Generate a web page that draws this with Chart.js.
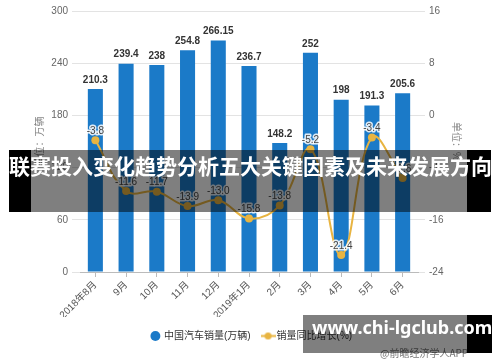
<!DOCTYPE html>
<html><head><meta charset="utf-8">
<script src="https://cdn.jsdelivr.net/npm/chart.js@4"></script>
<style>
html,body{margin:0;padding:0;background:#fff;}
#wrap{position:relative;width:500px;height:362px;overflow:hidden;}
canvas{display:block;}
#wm{position:absolute;left:380px;top:345px;font:10px 'Noto Sans CJK SC',sans-serif;color:#777;white-space:nowrap;}
#b1{position:absolute;left:9px;top:150px;width:482px;height:62px;line-height:62px;
 background:linear-gradient(to right,#000 0,#000 22px,rgba(0,0,0,0.5) 22px,rgba(0,0,0,0.5) 458px,#000 458px,#000 100%);
 color:#fff;font:bold 21px 'Noto Sans CJK SC',sans-serif;white-space:nowrap;overflow:visible;}
#b2{position:absolute;left:303px;top:315px;width:189px;height:38px;line-height:38px;
 background:linear-gradient(to right,rgba(0,0,0,0.5) 0,rgba(0,0,0,0.5) 164px,#000 164px,#000 100%);
 color:#fff;font:bold 18px 'Noto Sans',sans-serif;white-space:nowrap;}
#b2 span{position:absolute;left:9px;}
</style></head><body>
<div id="wrap">
<canvas id="c" width="500" height="362"></canvas>
<div id="wm">@前瞻经济学人APP</div>
<div id="b1">联赛投入变化趋势分析五大关键因素及未来发展方向</div>
<div id="b2"><span>www.chi-lgclub.com</span></div>
</div>
<script>
const categories = ['2018年8月','9月','10月','11月','12月','2019年1月','2月','3月','4月','5月','6月'];
const salesValues = [210.3, 239.4, 238, 254.8, 266.15, 236.7, 148.2, 252, 198, 191.3, 205.6];
const growthValues = [-3.8, -11.6, -11.7, -13.9, -13.0, -15.8, -13.8, -5.2, -21.4, -3.4, -9.6];
const salesLabel = '中国汽车销量(万辆)';
const growthLabel = '销量同比增长(%)';
const leftAxisTitle = '单位：万辆';
const rightAxisTitle = '单位：%';

const BLUE = '#1b7ac8';
const GOLD = '#e8b441';
const FONT = "'Liberation Sans','Noto Sans CJK SC',sans-serif";

function makeLineMarker(){
  const c=document.createElement('canvas'); c.width=15; c.height=9;
  const x=c.getContext('2d');
  x.strokeStyle=GOLD; x.lineWidth=2;
  x.beginPath(); x.moveTo(0,4.5); x.lineTo(15,4.5); x.stroke();
  x.fillStyle=GOLD; x.beginPath(); x.arc(7.5,4.5,3.5,0,Math.PI*2); x.fill();
  return c;
}
const lineMarker = makeLineMarker();

const valueLabels = {
  id:'valueLabels',
  afterDatasetsDraw(chart){
    const ctx=chart.ctx;
    const m0=chart.getDatasetMeta(0), m1=chart.getDatasetMeta(1);
    ctx.save();
    ctx.textAlign='center'; ctx.textBaseline='bottom';
    ctx.font='bold 10px '+FONT; ctx.fillStyle='#333';
    m0.data.forEach((el,i)=>{ ctx.fillText(String(salesValues[i]), el.x, el.y-4); });
    ctx.font='10px '+FONT;
    m1.data.forEach((el,i)=>{
      const t=growthValues[i].toFixed(1);
      ctx.lineWidth=3; ctx.strokeStyle='rgba(255,255,255,0.85)'; ctx.lineJoin='round';
      ctx.strokeText(t, el.x, el.y-4);
      ctx.fillStyle='#444'; ctx.fillText(t, el.x, el.y-4);
    });
    ctx.restore();
  }
};

new Chart(document.getElementById('c'), {
  type:'bar',
  data:{
    labels:categories,
    datasets:[
      {type:'bar', label:salesLabel, data:salesValues, backgroundColor:BLUE, yAxisID:'y',
       barPercentage:0.49, categoryPercentage:1, order:2},
      {type:'line', label:growthLabel, data:growthValues, yAxisID:'y1', borderColor:GOLD, backgroundColor:GOLD,
       borderWidth:2, pointRadius:4, pointBackgroundColor:GOLD, pointBorderWidth:0, tension:0.4, order:1}
    ]
  },
  options:{
    responsive:false, animation:false, devicePixelRatio:1,
    layout:{padding:{top:11,left:4,right:0,bottom:11}},
    plugins:{
      tooltip:{enabled:false},
      legend:{position:'bottom',
        labels:{usePointStyle:true, boxHeight:7, boxWidth:7, padding:14, color:'#333', font:{size:10, family:FONT},
          generateLabels(){ return [
            {text:salesLabel, fillStyle:BLUE, strokeStyle:BLUE, lineWidth:0, pointStyle:'circle', datasetIndex:0, hidden:false, fontColor:'#333'},
            {text:growthLabel, fillStyle:GOLD, strokeStyle:GOLD, lineWidth:0, pointStyle:lineMarker, datasetIndex:1, hidden:false, fontColor:'#333'}
          ];}
        }}
    },
    scales:{
      x:{
        grid:{display:true, drawOnChartArea:false, drawTicks:true, tickLength:5, offset:false, color:'#bbb'},
        border:{display:true, color:'#bbb'},
        ticks:{minRotation:45, maxRotation:45, color:'#555', font:{size:10, family:FONT}, padding:2},
        afterFit(s){ s.height=45; }
      },
      y:{
        position:'left', min:0, max:300,
        ticks:{stepSize:60, color:'#666', font:{size:10, family:FONT}, padding:4},
        grid:{color:'#e3e3e3', tickLength:8},
        border:{display:false},
        title:{display:true, text:leftAxisTitle, color:'#888', font:{size:10, family:FONT}, padding:{top:30,bottom:0}},
        afterFit(s){ s.width=76; }
      },
      y1:{
        position:'right', min:-24, max:16,
        ticks:{stepSize:8, color:'#666', font:{size:10, family:FONT}, padding:4},
        grid:{drawOnChartArea:false, color:'#e3e3e3', tickLength:7},
        border:{display:false},
        title:{display:true, text:rightAxisTitle, color:'#888', font:{size:10, family:FONT}, padding:{top:38,bottom:0}},
        afterFit(s){ s.width=82; }
      }
    }
  },
  plugins:[valueLabels]
});
</script>
</body></html>
